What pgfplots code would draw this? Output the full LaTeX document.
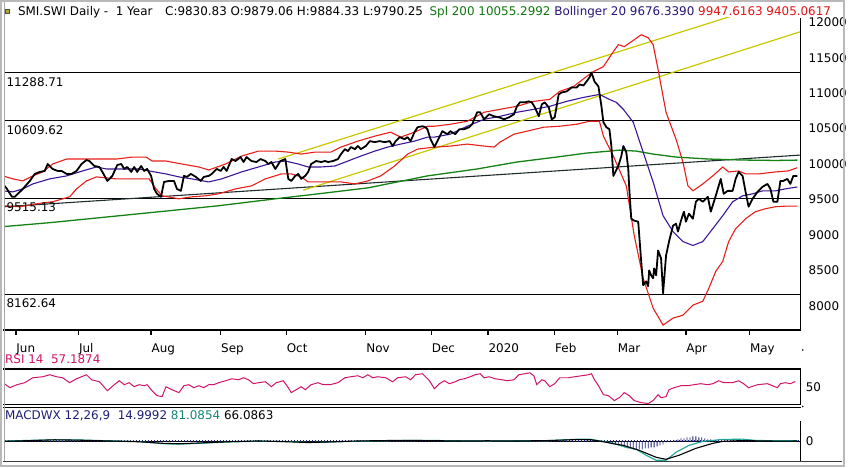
\documentclass[border=0pt]{standalone}
\usepackage{fontspec}
\setmainfont{DejaVu Sans}
\usepackage{pgfplots}
\pgfplotsset{compat=1.18}
\definecolor{bandred}{RGB}{232,30,24}
\definecolor{midpurple}{RGB}{60,20,150}
\definecolor{smagreen}{RGB}{20,130,20}
\definecolor{trendc}{RGB}{30,45,45}
\definecolor{yel}{RGB}{200,200,0}
\definecolor{rsic}{RGB}{210,20,105}
\definecolor{tealc}{RGB}{30,165,150}
\definecolor{navyc}{RGB}{30,30,120}
\definecolor{hdrgreen}{RGB}{16,120,16}
\definecolor{hdrblue}{RGB}{40,20,120}
\definecolor{hdrred}{RGB}{225,20,20}
\newcommand{\tf}{\fontsize{12}{14}\selectfont}
\begin{document}
\begin{tikzpicture}
\begin{scope}[x=1pt,y=1pt]
\path[fill=white] (0,0) rectangle (850,470);
\end{scope}
% ---------------- main price panel ----------------
\begin{axis}[at={(5pt,138pt)},anchor=south west,scale only axis,width=800pt,height=314pt,
  xmin=5,xmax=805,ymin=7657,ymax=12062,
  axis line style={draw=none},
  xtick={16,79,152,222,288,368,434,491,558,621,690,754},
  xticklabels={Jun,Jul,Aug,Sep,Oct,Nov,Dec,2020,Feb,Mar,Apr,May},
  xtick pos=bottom, tick align=outside, major tick length=5pt,
  xtick style={line width=1.3pt,black},
  xticklabel style={anchor=north west,xshift=-3pt,yshift=-5pt,font=\tf},
  ytick={8000,8500,...,12000}, ytick pos=right, ytick style={draw=none},scaled y ticks=false,
  yticklabel style={anchor=west,xshift=0pt,font=\tf,/pgf/number format/1000 sep={}},
  /pgf/number format/assume math mode=true,
  clip=true]
% horizontal levels
\addplot[black,line width=1pt] coordinates {(5,11288.71)(805,11288.71)};
\addplot[black,line width=1pt] coordinates {(5,10609.62)(805,10609.62)};
\addplot[black,line width=1pt] coordinates {(5,9515.13)(805,9515.13)};
\addplot[black,line width=1pt] coordinates {(5,8162.64)(805,8162.64)};
% trend & channel lines
\addplot[trendc,line width=1.1pt] coordinates {(5,9397)(805,10126)};
\addplot[yel,line width=1.2pt] coordinates {(280,10070)(760,12194)};
\addplot[yel,line width=1.2pt] coordinates {(305,9630)(805,11866)};
% SMA 200
\addplot[smagreen,line width=1.3pt] coordinates {(3,9116)(50,9172)(100,9242)(150,9312)(220,9411)(277,9509)(320,9579)(370,9663)(430,9832)(480,9930)(520,10028)(560,10098)(590,10154)(613,10182)(623,10196)(640,10182)(657,10140)(680,10098)(713,10070)(747,10056)(780,10050)(802,10055)};
% Bollinger upper
\addplot[bandred,line width=1.1pt] coordinates {(3,9832)(13,9790)(23,9761)(33,9832)(43,9888)(53,10000)(67,10070)(83,10070)(100,10070)(117,10070)(133,10098)(147,10098)(153,10042)(167,10042)(183,10000)(200,9958)(210,9916)(227,10000)(243,10112)(260,10182)(277,10182)(290,10168)(303,10140)(317,10168)(333,10168)(343,10239)(360,10323)(377,10393)(393,10449)(403,10379)(417,10449)(430,10533)(437,10533)(453,10561)(470,10603)(487,10730)(503,10772)(520,10814)(537,10884)(553,10912)(563,11024)(577,11094)(590,11235)(597,11305)(607,11375)(617,11585)(622,11684)(628,11656)(638,11754)(645,11824)(652,11782)(657,11684)(662,11333)(667,10954)(670,10730)(680,10351)(687,10028)(692,9691)(697,9621)(707,9719)(717,9832)(727,9958)(733,9888)(743,9902)(750,9860)(763,9860)(780,9888)(793,9902)(802,9948)};
% Bollinger lower
\addplot[bandred,line width=1.1pt] coordinates {(3,9411)(20,9397)(37,9439)(53,9467)(70,9537)(77,9649)(87,9761)(97,9818)(117,9790)(133,9790)(150,9790)(157,9649)(163,9551)(180,9509)(193,9537)(207,9551)(220,9579)(237,9649)(253,9691)(267,9790)(283,9860)(293,9860)(303,9818)(310,9747)(327,9747)(343,9747)(357,9719)(370,9761)(383,9832)(397,9972)(410,10140)(420,10210)(437,10239)(453,10253)(470,10281)(487,10253)(497,10239)(503,10309)(517,10421)(530,10463)(547,10519)(563,10533)(580,10561)(593,10603)(603,10603)(607,10393)(617,10112)(630,9691)(638,8990)(647,8387)(657,7966)(667,7727)(677,7825)(687,7867)(697,8008)(707,8064)(713,8246)(720,8485)(727,8625)(733,8906)(740,9088)(750,9228)(760,9327)(770,9369)(780,9397)(790,9405)(802,9405)};
% Bollinger middle
\addplot[midpurple,line width=1.1pt] coordinates {(3,9621)(13,9607)(23,9649)(33,9719)(50,9790)(67,9832)(83,9902)(97,9958)(107,9930)(120,9930)(140,9930)(150,9902)(167,9860)(180,9818)(193,9790)(210,9747)(223,9790)(243,9888)(260,9958)(277,10028)(287,10042)(300,10000)(310,9958)(323,9958)(337,9972)(350,10042)(363,10112)(377,10182)(390,10239)(403,10281)(417,10323)(430,10379)(437,10379)(453,10421)(470,10533)(487,10631)(503,10673)(520,10730)(537,10772)(553,10814)(570,10884)(587,10940)(603,10982)(613,10912)(620,10870)(627,10772)(637,10589)(647,10168)(657,9747)(667,9270)(677,9046)(687,8906)(697,8850)(707,8906)(717,9088)(727,9270)(737,9467)(747,9551)(757,9579)(767,9621)(780,9621)(790,9649)(802,9676)};
% price
\addplot[black,line width=1.8pt,line join=round] coordinates {(3,9719)(7,9649)(12,9537)(15,9537)(18,9579)(23,9649)(30,9761)(35,9860)(40,9888)(45,9902)(48,10000)(53,9930)(58,9902)(62,9902)(67,9860)(72,9860)(77,9902)(82,10000)(87,10056)(90,10042)(95,9972)(100,9958)(103,9888)(108,9761)(113,9832)(118,9986)(122,10000)(125,9930)(128,9958)(132,9888)(135,9958)(138,9888)(142,9972)(145,9902)(148,9930)(152,9832)(155,9649)(158,9579)(162,9537)(165,9747)(170,9761)(175,9761)(178,9649)(182,9621)(185,9832)(188,9818)(192,9860)(197,9818)(202,9761)(205,9818)(210,9832)(213,9860)(218,9930)(222,9902)(225,9958)(228,9902)(233,10070)(237,10042)(242,10098)(245,10028)(248,10098)(253,10042)(258,10028)(262,10070)(267,10042)(270,10000)(273,10028)(277,9930)(282,10042)(287,10070)(290,9790)(293,9761)(297,9832)(300,9860)(303,9790)(307,9832)(310,9888)(313,10000)(318,10042)(323,10028)(327,10042)(330,10028)(335,10042)(340,10070)(343,10140)(347,10210)(350,10182)(353,10239)(357,10210)(360,10253)(363,10210)(368,10253)(372,10323)(377,10309)(382,10323)(387,10309)(392,10323)(395,10253)(398,10323)(402,10379)(407,10351)(410,10379)(413,10323)(417,10449)(420,10519)(425,10533)(428,10519)(430,10491)(433,10351)(437,10239)(440,10323)(445,10463)(450,10421)(453,10463)(458,10421)(462,10491)(467,10491)(472,10519)(475,10561)(480,10730)(483,10730)(487,10631)(492,10702)(497,10673)(502,10659)(507,10631)(512,10659)(517,10702)(520,10814)(523,10870)(528,10870)(532,10884)(535,10870)(538,10800)(542,10673)(545,10842)(548,10870)(552,10800)(555,10631)(558,10659)(562,10982)(565,11010)(570,11024)(575,11080)(580,11080)(583,11122)(587,11108)(590,11164)(593,11221)(595,11291)(598,11164)(602,11094)(605,10814)(607,10589)(610,10519)(613,10491)(615,10253)(617,9832)(622,9972)(625,10112)(627,10253)(630,10168)(632,9930)(633,9649)(635,9228)(638,9200)(642,9186)(645,8625)(647,8288)(650,8344)(652,8274)(653,8499)(655,8429)(657,8387)(658,8527)(660,8429)(662,8779)(665,8667)(667,8176)(670,8709)(673,8906)(677,9130)(680,9158)(682,9046)(685,9200)(688,9327)(690,9186)(693,9299)(697,9228)(700,9467)(703,9509)(707,9467)(712,9537)(715,9327)(720,9551)(725,9790)(728,9579)(732,9621)(737,9621)(740,9790)(743,9888)(747,9832)(750,9607)(753,9397)(757,9509)(762,9607)(767,9677)(772,9719)(775,9649)(778,9467)(782,9467)(785,9761)(788,9761)(792,9790)(795,9719)(798,9832)(802,9831)};
\node[anchor=north west,inner sep=1.5pt,yshift=-3pt,font=\tf] at (axis cs:5,11288.71) {11288.71};
\node[anchor=north west,inner sep=1.5pt,yshift=-3pt,font=\tf] at (axis cs:5,10609.62) {10609.62};
\node[anchor=north west,inner sep=1.5pt,yshift=-3pt,font=\tf] at (axis cs:5,9515.13) {9515.13};
\node[anchor=north west,inner sep=1.5pt,yshift=-2.5pt,font=\tf] at (axis cs:5,8162.64) {8162.64};
\end{axis}
% ---------------- RSI panel ----------------
\begin{axis}[at={(5pt,63pt)},anchor=south west,scale only axis,width=800pt,height=36pt,
  xmin=5,xmax=805,ymin=25,ymax=75,
  axis line style={draw=none},xtick=\empty,
  ytick={50},ytick pos=right,ytick style={draw=none},
  yticklabel style={anchor=west,xshift=2pt,font=\tf},
  /pgf/number format/assume math mode=true]
\addplot[rsic,line width=1pt] coordinates {(3,55.6)(10,48.6)(17,52.8)(25,55.6)(33,62.5)(43,63.9)(50,66.7)(57,63.9)(63,62.5)(70,55.6)(77,61.1)(87,66.7)(92,59.7)(100,56.9)(108,44.4)(115,52.8)(120,58.3)(125,52.8)(130,55.6)(135,50)(140,52.8)(145,51.4)(148,52.8)(153,44.4)(158,37.5)(163,36.1)(167,50)(173,45.8)(180,41.7)(185,51.4)(190,52.8)(195,48.6)(200,51.4)(205,48.6)(210,52.8)(215,52.8)(220,55.6)(227,58.3)(233,61.1)(240,59.7)(245,62.5)(250,59.7)(255,54.2)(260,55.6)(267,56.9)(273,50)(278,55.6)(285,58.3)(290,48.6)(293,41.7)(298,45.8)(303,50)(307,45.8)(313,52.8)(320,55.6)(325,52.8)(332,52.8)(340,55.6)(347,62.5)(353,63.9)(360,65.3)(365,62.5)(370,66.7)(375,62.5)(380,63.9)(388,62.5)(395,56.9)(400,62.5)(408,63.9)(413,59.7)(418,66.7)(425,68.1)(432,58.3)(437,47.2)(442,54.2)(447,58.3)(452,54.2)(458,56.9)(462,59.7)(467,61.1)(473,63.9)(478,66.7)(483,68.1)(487,62.5)(492,63.9)(498,61.1)(505,59.7)(510,58.3)(517,59.7)(522,66.7)(528,68.1)(533,69.4)(537,65.3)(540,52.8)(545,59.7)(548,58.3)(553,50)(558,54.2)(563,62.5)(572,62.5)(578,63.9)(585,65.3)(592,66.7)(595,68.1)(598,59.7)(602,51.4)(607,38.9)(612,37.5)(618,30.6)(623,34.7)(628,41.7)(633,37.5)(638,30.6)(645,27.8)(652,26.4)(657,30.6)(662,38.9)(665,34.7)(670,36.1)(673,45.8)(678,48.6)(685,51.4)(692,51.4)(698,52.8)(705,54.2)(712,52.8)(717,54.2)(723,58.3)(728,55.6)(737,55.6)(743,58.3)(748,54.2)(753,48.6)(762,52.8)(772,54.2)(777,51.4)(782,48.6)(785,54.2)(790,55.6)(795,54.2)(800,57.19)};
\end{axis}
% ---------------- MACD panel ----------------
\begin{axis}[at={(5pt,6pt)},anchor=south west,scale only axis,width=800pt,height=55pt,
  xmin=5,xmax=805,ymin=-500,ymax=875,
  axis line style={draw=none},xtick=\empty,
  ytick={0},ytick pos=right,ytick style={draw=none},
  yticklabel style={anchor=west,xshift=2pt,font=\tf},
  /pgf/number format/assume math mode=true]
\addplot[black,line width=0.9pt] coordinates {(5,0)(805,0)};
\addplot[navyc,line width=2.2pt,dash pattern=on 0.7pt off 2.3pt] coordinates {(5,0)(805,0)};
\addplot[ybar,bar width=0.8pt,draw=none,fill=navyc] coordinates {(613,-25)(616,-50)(619,-75)(622,-100)(625,-125)(628,-150)(631,-175)(634,-175)(637,-200)(640,-200)(643,-200)(646,-200)(649,-175)(652,-175)(655,-150)(658,-150)(661,-125)(664,-100)(667,-75)(670,-25)(679,25)(682,50)(685,75)(688,75)(691,100)(694,100)(697,125)(700,125)(703,100)(706,100)(709,75)(712,50)(715,50)(718,25)(721,25)};
\addplot[tealc,line width=1.1pt] coordinates {(5,10)(30,25)(55,40)(80,35)(110,15)(140,-5)(165,-60)(180,-70)(200,-50)(230,-15)(260,5)(290,-5)(310,-25)(330,-20)(360,5)(400,20)(430,25)(460,15)(490,10)(520,15)(550,15)(580,55)(593,55)(607,0)(617,-50)(630,-150)(640,-200)(650,-350)(660,-475)(670,-475)(680,-275)(693,-100)(707,0)(727,50)(747,55)(760,25)(780,15)(802,15)};
\addplot[black,line width=1.1pt] coordinates {(5,0)(30,20)(55,40)(80,30)(110,10)(140,-10)(165,-50)(180,-60)(200,-40)(230,-10)(260,10)(290,-10)(310,-30)(330,-15)(360,10)(400,25)(430,20)(460,10)(490,15)(520,10)(550,20)(580,45)(595,40)(607,-10)(617,-60)(627,-100)(643,-225)(660,-400)(670,-450)(683,-350)(700,-175)(717,-50)(727,0)(747,20)(770,10)(790,5)(802,10)};
\end{axis}
% ---------------- frames and labels ----------------
\begin{scope}[x=1pt,y=1pt]
\draw[black,line width=1.3pt] (3,138) -- (805.6,138);
\draw[black,line width=1.3pt] (805,452) -- (805,138);
\draw[black,line width=1.4pt] (3,99) -- (805.7,99);
\draw[black,line width=1.4pt] (3,63) -- (805.7,63);
\draw[black,line width=1.3pt] (805,99) -- (805,63);
\draw[black,line width=1.4pt] (3,60) -- (805.7,60);
\draw[black,line width=1.3pt] (805,46) -- (805,6);
\draw[black!75,line width=1.3pt] (3,6) -- (847,6);
\draw[gray!55,line width=2pt] (1,1) rectangle (849,469);
\draw[gray!70,line width=1.2pt] (4.2,6) -- (4.2,468);
\fill[black] (807.5,118) circle (0.9pt);
\fill[black] (807.5,61) circle (0.9pt);
\filldraw[fill=olive!70,draw=black!70,line width=0.5pt] (5.5,457) rectangle (9,460.5);
\node[anchor=base west,inner sep=0pt,font=\tf] at (18,454.3) {SMI.SWI Daily -\ \ 1 Year};
\node[anchor=base west,inner sep=0pt,font=\tf] at (166,454.3) {C:9830.83 O:9879.06 H:9884.33 L:9790.25};
\node[anchor=base west,inner sep=0pt,font=\tf] at (432,454.3) {\textcolor{hdrgreen}{Spl 200 10055.2992} \textcolor{hdrblue}{Bollinger 20 9676.3390} \textcolor{hdrred}{9947.6163 9405.0617}};
\node[anchor=base west,inner sep=0pt,font=\tf,text=rsic] at (5,104.5) {RSI 14\ \ 57.1874};
\node[anchor=base west,inner sep=0pt,font=\tf] at (5,48.5) {\textcolor{navyc}{MACDWX 12,26,9\ \ 14.9992} \textcolor{tealc!80!black}{81.0854} 66.0863};
\end{scope}
\end{tikzpicture}
\end{document}
